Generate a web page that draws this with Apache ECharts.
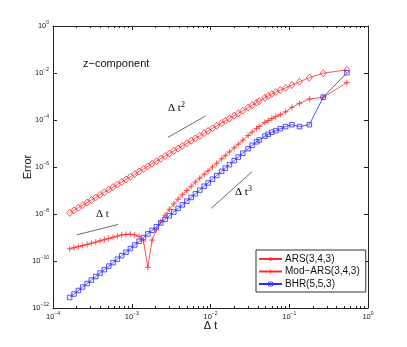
<!DOCTYPE html>
<html>
<head>
<meta charset="utf-8">
<script src="https://cdn.jsdelivr.net/npm/echarts@6/dist/echarts.min.js"></script>
<style>
html, body { margin: 0; padding: 0; background: #fff; }
#main { width: 407px; height: 347px; }
</style>
</head>
<body>
<div id="main"></div>
<script>
// time step sizes (x axis)
const dt = [1.63e-4, 1.85e-4, 2.10e-4, 2.38e-4, 2.71e-4, 3.07e-4, 3.49e-4, 3.96e-4, 4.49e-4, 5.10e-4,
    5.79e-4, 6.57e-4, 7.46e-4, 8.46e-4, 9.61e-4, 1.09e-3, 1.24e-3, 1.41e-3, 1.60e-3, 1.81e-3,
    2.05e-3, 2.34e-3, 2.65e-3, 3.00e-3, 3.42e-3, 3.88e-3, 4.39e-3, 5.00e-3, 5.68e-3, 6.43e-3,
    7.30e-3, 8.31e-3, 9.31e-3, 1.059e-2, 1.20e-2, 1.385e-2, 1.54e-2, 1.74e-2, 2.00e-2, 2.25e-2,
    2.57e-2, 3.00e-2, 3.375e-2, 3.86e-2, 4.15e-2, 4.91e-2, 5.40e-2, 6.00e-2, 6.75e-2, 7.71e-2,
    9.00e-2, 0.108, 0.135, 0.18, 0.27, 0.54]
const arsErr = [1.11e-8, 1.43e-8, 1.84e-8, 2.37e-8, 3.06e-8, 3.93e-8, 5.08e-8, 6.55e-8, 8.39e-8, 1.09e-7,
    1.40e-7, 1.80e-7, 2.32e-7, 2.98e-7, 3.85e-7, 4.94e-7, 6.40e-7, 8.28e-7, 1.07e-6, 1.37e-6,
    1.75e-6, 2.28e-6, 2.92e-6, 3.75e-6, 4.85e-6, 6.22e-6, 7.89e-6, 1.02e-5, 1.31e-5, 1.66e-5,
    2.13e-5, 2.75e-5, 3.43e-5, 4.42e-5, 5.62e-5, 7.43e-5, 9.18e-5, 1.16e-4, 1.53e-4, 1.92e-4,
    2.49e-4, 3.37e-4, 4.24e-4, 5.52e-4, 6.34e-4, 8.81e-4, 1.06e-3, 1.28e-3, 1.54e-3, 1.88e-3,
    2.33e-3, 3.06e-3, 4.27e-3, 6.31e-3, 9.82e-3, 1.36e-2]
const modArsErr = [3.28e-10, 3.66e-10, 4.08e-10, 4.56e-10, 5.11e-10, 5.70e-10, 6.41e-10, 7.19e-10, 8.07e-10, 9.08e-10,
    1.02e-9, 1.15e-9, 1.29e-9, 1.35e-9, 1.38e-9, 1.29e-9, 1.12e-9, 7.08e-10, 5.37e-11, 7.76e-10,
    2.09e-9, 4.68e-9, 8.91e-9, 1.58e-8, 2.69e-8, 4.27e-8, 6.61e-8, 1.00e-7, 1.51e-7, 2.29e-7,
    3.33e-7, 4.91e-7, 6.85e-7, 1.00e-6, 1.45e-6, 2.21e-6, 3.05e-6, 4.39e-6, 6.59e-6, 9.35e-6,
    1.39e-5, 2.18e-5, 3.08e-5, 4.38e-5, 5.31e-5, 7.83e-5, 9.44e-5, 1.16e-4, 1.41e-4, 1.70e-4,
    2.24e-4, 3.47e-4, 5.13e-4, 7.76e-4, 9.33e-4, 3.89e-3]
const bhrErr = [2.81e-12, 3.94e-12, 5.55e-12, 7.80e-12, 1.10e-11, 1.54e-11, 2.18e-11, 3.07e-11, 4.29e-11, 6.07e-11,
    8.53e-11, 1.20e-10, 1.69e-10, 2.37e-10, 3.40e-10, 4.83e-10, 6.93e-10, 9.98e-10, 1.42e-9, 2.02e-9,
    2.86e-9, 4.15e-9, 5.89e-9, 8.35e-9, 1.21e-8, 1.73e-8, 2.44e-8, 3.54e-8, 5.06e-8, 7.23e-8,
    1.04e-7, 1.52e-7, 2.09e-7, 3.03e-7, 4.34e-7, 6.53e-7, 8.91e-7, 1.26e-6, 1.88e-6, 2.64e-6,
    3.86e-6, 6.01e-6, 8.38e-6, 1.18e-5, 1.41e-5, 2.06e-5, 2.45e-5, 2.99e-5, 3.53e-5, 4.27e-5,
    5.25e-5, 6.31e-5, 5.25e-5, 6.31e-5, 9.33e-4, 1.02e-2]
const seriesNames = ['ARS(3,4,3)', 'Mod−ARS(3,4,3)', 'BHR(5,5,3)']

// reference slope segments
const slopeDt1 = [[2.0e-4, 1.29e-9], [6.7e-4, 3.6e-9]]
const slopeDt2 = [[2.88e-3, 1.82e-5], [8.65e-3, 1.48e-4]]
const slopeDt3 = [[1.02e-2, 1.74e-8], [3.37e-2, 6.31e-7]]

// ticks
const xMajorTicks = [1e-4, 1e-3, 1e-2, 1e-1, 1]
const xMinorTicks = [2e-4, 3e-4, 4e-4, 5e-4, 6e-4, 7e-4, 8e-4, 9e-4,
    2e-3, 3e-3, 4e-3, 5e-3, 6e-3, 7e-3, 8e-3, 9e-3,
    2e-2, 3e-2, 4e-2, 5e-2, 6e-2, 7e-2, 8e-2, 9e-2,
    0.2, 0.3, 0.4, 0.5, 0.6, 0.7, 0.8, 0.9]
const yTicks = [1e-12, 1e-10, 1e-8, 1e-6, 1e-4, 1e-2, 1]

const RED = '#ff2a2a'
const BLUE = '#2a2aff'
const AXIS = '#222'
const SANS = 'Liberation Sans, Arial, sans-serif'
const SERIF = 'Liberation Serif, Times New Roman, serif'
const PLUS = 'path://M0,4L8,4M4,0L4,8'

function powLabel(v) {
    const e = Math.round(Math.log10(v))
    return '{b|10}{e|' + (e < 0 ? '−' + (-e) : e) + '}'
}
const powRich = {
    b: { fontSize: 7.5, lineHeight: 12, color: '#222', fontFamily: SANS },
    e: { fontSize: 5, lineHeight: 6, verticalAlign: 'top', color: '#222', fontFamily: SANS }
}

function pairs(ys) {
    return dt.map((x, i) => [x, ys[i]])
}

function slopeSeries(data) {
    return {
        type: 'line', data: data, symbol: 'none', silent: true,
        lineStyle: { color: '#444', width: 0.8 }
    }
}

function hollow(color) {
    return { color: 'transparent', borderColor: color, borderWidth: 0.8 }
}

const gridBox = { left: 53, right: 39, top: 26, bottom: 39 }

const chart = echarts.init(document.getElementById('main'))
chart.setOption({
    animation: false,
    backgroundColor: '#fff',
    grid: [gridBox, gridBox],
    xAxis: [
        {
            type: 'log', min: 1e-4, max: 1, gridIndex: 0, position: 'bottom',
            name: 'Δ t', nameLocation: 'middle', nameGap: 12, nameMoveOverlap: false,
            nameTextStyle: { fontSize: 11, color: '#111', fontFamily: SANS },
            axisLine: { onZero: false, lineStyle: { color: AXIS, width: 1 } },
            axisTick: { inside: true, length: 4, customValues: xMajorTicks, lineStyle: { color: AXIS } },
            axisLabel: { customValues: xMajorTicks, margin: 3, formatter: powLabel, rich: powRich },
            splitLine: { show: false }
        },
        {
            type: 'log', min: 1e-4, max: 1, gridIndex: 0, position: 'top',
            axisLine: { onZero: false, lineStyle: { color: AXIS, width: 1 } },
            axisTick: { inside: true, length: 4, customValues: xMajorTicks, lineStyle: { color: AXIS } },
            axisLabel: { show: false },
            splitLine: { show: false }
        },
        {
            type: 'log', min: 1e-4, max: 1, gridIndex: 1, position: 'bottom',
            axisLine: { show: false },
            axisTick: { inside: true, length: 2, customValues: xMinorTicks, lineStyle: { color: AXIS } },
            axisLabel: { show: false },
            splitLine: { show: false }
        },
        {
            type: 'log', min: 1e-4, max: 1, gridIndex: 1, position: 'top',
            axisLine: { show: false },
            axisTick: { inside: true, length: 2, customValues: xMinorTicks, lineStyle: { color: AXIS } },
            axisLabel: { show: false },
            splitLine: { show: false }
        }
    ],
    yAxis: [
        {
            type: 'log', min: 1e-12, max: 1, gridIndex: 0, position: 'left',
            name: 'Error', nameLocation: 'middle', nameGap: 20, nameRotate: 90, nameMoveOverlap: false,
            nameTextStyle: { fontSize: 11, color: '#111', fontFamily: SANS },
            axisLine: { onZero: false, lineStyle: { color: AXIS, width: 1 } },
            axisTick: { inside: true, length: 4, customValues: yTicks, lineStyle: { color: AXIS } },
            axisLabel: { customValues: yTicks, margin: 4, formatter: powLabel, rich: powRich },
            splitLine: { show: false }
        },
        {
            type: 'log', min: 1e-12, max: 1, gridIndex: 0, position: 'right',
            axisLine: { onZero: false, lineStyle: { color: AXIS, width: 1 } },
            axisTick: { inside: true, length: 4, customValues: yTicks, lineStyle: { color: AXIS } },
            axisLabel: { show: false },
            splitLine: { show: false }
        },
        { type: 'value', gridIndex: 1, show: false }
    ],
    legend: {
        data: [
            { name: seriesNames[0], itemStyle: hollow(RED) },
            { name: seriesNames[1], itemStyle: hollow(RED) },
            { name: seriesNames[2], itemStyle: hollow(BLUE) }
        ],
        orient: 'vertical',
        left: 256, top: 250,
        itemWidth: 23, itemHeight: 5, itemGap: 2.5,
        padding: [4, 6, 3, 2],
        backgroundColor: '#fff',
        borderColor: '#333', borderWidth: 1, borderRadius: 0,
        textStyle: { fontSize: 10, color: '#111', fontFamily: SANS, padding: [0, 0, 0, -2] }
    },
    graphic: [
        { type: 'text', left: 83, top: 58, style: { text: 'z−component', fill: '#111', font: '11px ' + SANS } },
        {
            type: 'text', left: 96, top: 209,
            style: { text: 'Δ t', fill: '#111', font: '11px ' + SERIF }
        },
        {
            type: 'text', left: 168, top: 101,
            style: {
                text: '{m|Δ t}{s|2}',
                rich: {
                    m: { fontSize: 11, lineHeight: 15, fontFamily: SERIF, color: '#111' },
                    s: { fontSize: 8, lineHeight: 8, verticalAlign: 'top', fontFamily: SERIF, color: '#111' }
                }
            }
        },
        {
            type: 'text', left: 235, top: 185,
            style: {
                text: '{m|Δ t}{s|3}',
                rich: {
                    m: { fontSize: 11, lineHeight: 15, fontFamily: SERIF, color: '#111' },
                    s: { fontSize: 8, lineHeight: 8, verticalAlign: 'top', fontFamily: SERIF, color: '#111' }
                }
            }
        }
    ],
    series: [
        {
            name: seriesNames[0], type: 'line', data: pairs(arsErr),
            symbol: 'diamond', symbolSize: [6, 7], showAllSymbol: true,
            lineStyle: { color: RED, width: 0.8 },
            itemStyle: hollow(RED)
        },
        {
            name: seriesNames[1], type: 'line', data: pairs(modArsErr),
            symbol: PLUS, symbolSize: 6, showAllSymbol: true,
            lineStyle: { color: RED, width: 0.8 },
            itemStyle: hollow(RED)
        },
        {
            name: seriesNames[2], type: 'line', data: pairs(bhrErr),
            symbol: 'rect', symbolSize: 4.5, showAllSymbol: true,
            lineStyle: { color: BLUE, width: 0.8 },
            itemStyle: hollow(BLUE)
        },
        slopeSeries(slopeDt1),
        slopeSeries(slopeDt2),
        slopeSeries(slopeDt3)
    ]
})
</script>
</body>
</html>
